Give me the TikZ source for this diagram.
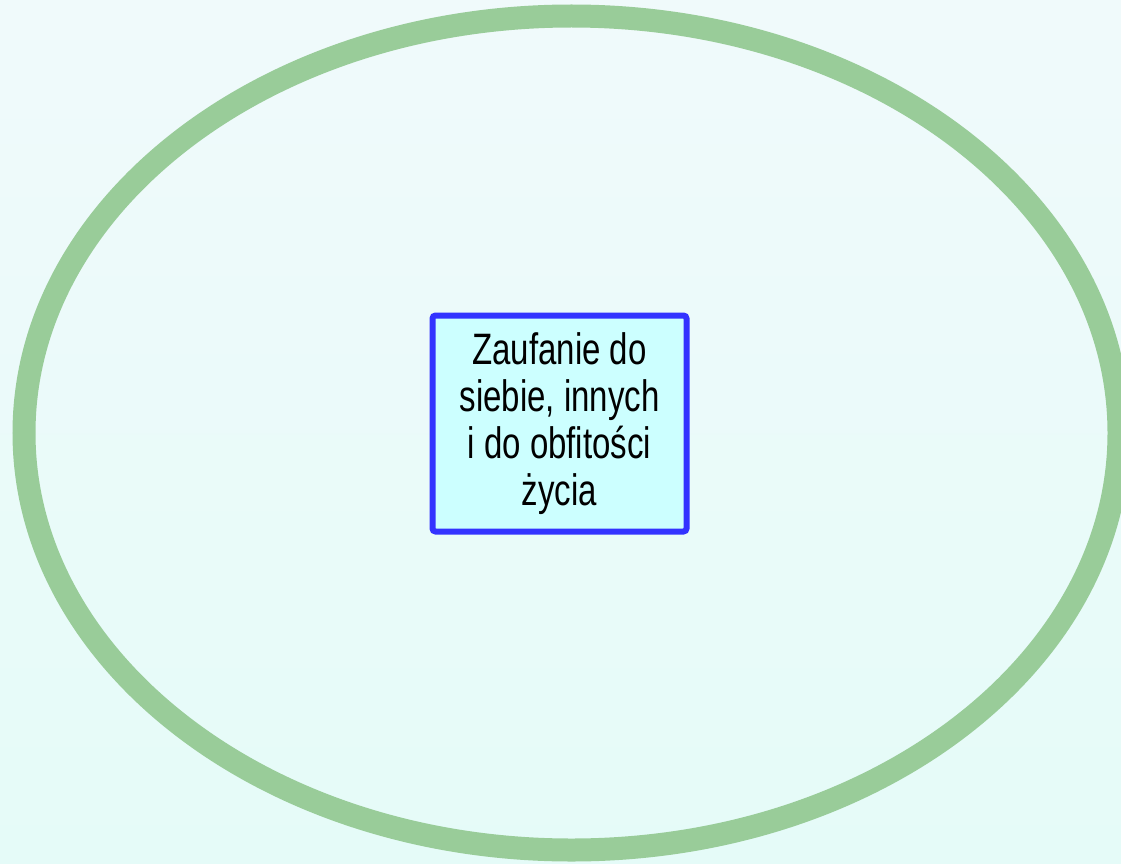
\documentclass[tikz,border=0pt]{standalone}
\usepackage{fontspec}
\setmainfont[FakeStretch=0.75]{Liberation Sans}
\definecolor{bgtop}{HTML}{F0FAFB}
\definecolor{bgbot}{HTML}{E5FBF8}
\definecolor{ringgreen}{HTML}{99CC99}
\definecolor{boxblue}{HTML}{3333FF}
\definecolor{boxfill}{HTML}{CCFFFF}
\tikzset{
  ring/.style={draw=ringgreen, line width=23pt},
  centerbox/.style={draw=boxblue, fill=boxfill, line width=6pt, rounded corners=3pt,
    minimum width=254pt, minimum height=216pt, align=center, inner sep=0pt,
    font=\fontsize{44}{47}\selectfont}
}
\begin{document}
\begin{tikzpicture}[x=1pt,y=-1pt]
\useasboundingbox (0,0) rectangle (1121,864);
\shade[top color=bgtop, bottom color=bgbot] (0,0) rectangle (1121,864);
\draw[ring] (571.5,433) ellipse [x radius=547.5, y radius=417];
\node[centerbox] (trust) at (559.5,423.5) {Zaufanie do\\siebie, innych\\i do obfitości\\życia};
\end{tikzpicture}
\end{document}
